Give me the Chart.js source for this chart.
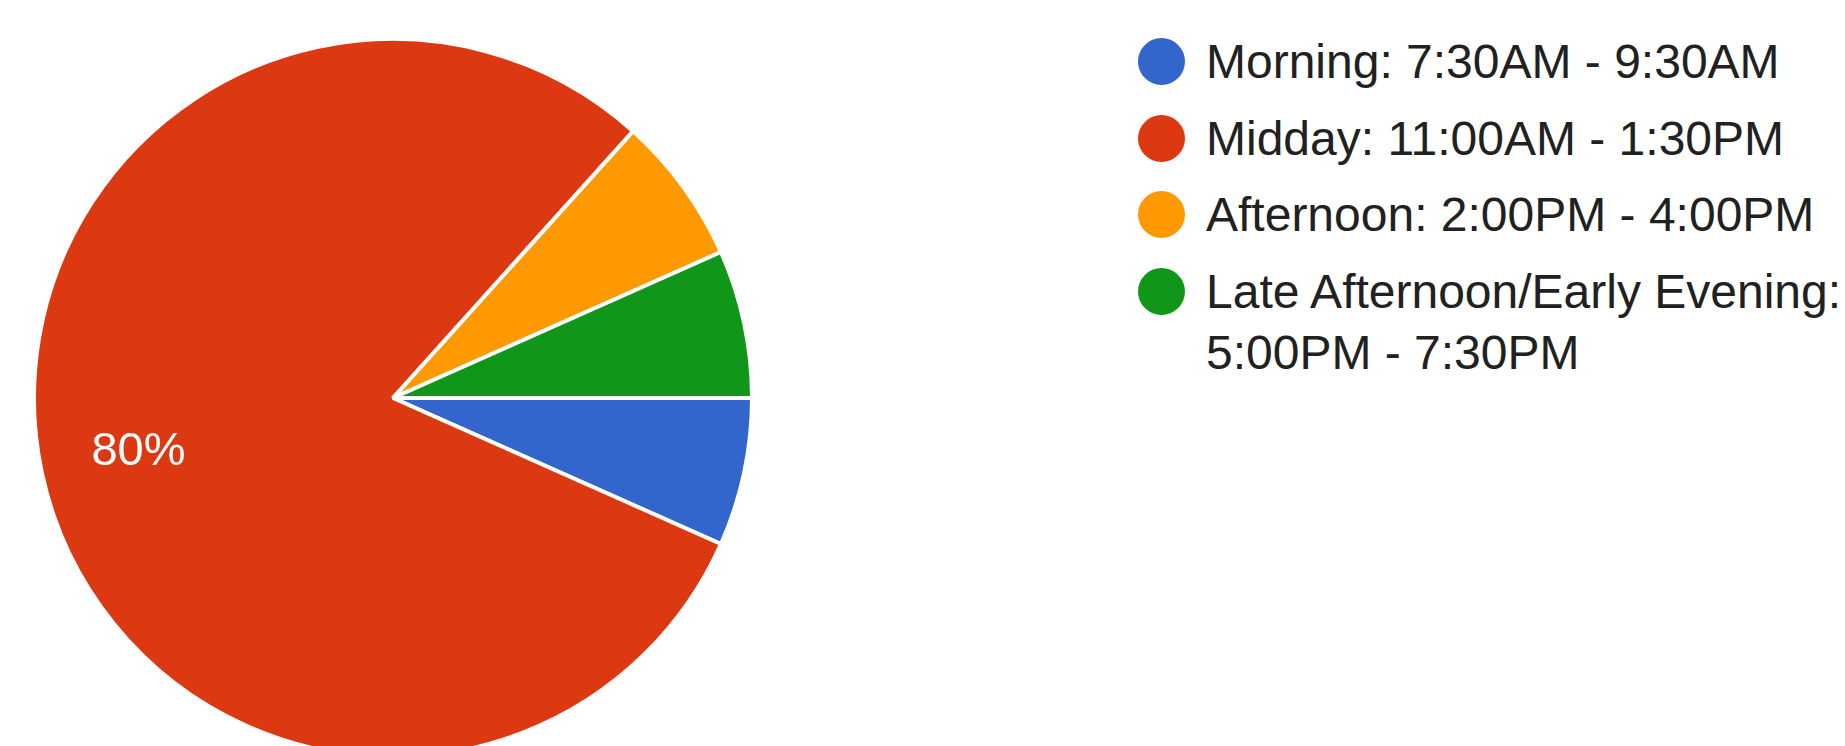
<!DOCTYPE html>
<html>
<head>
<meta charset="utf-8">
<script src="https://cdn.jsdelivr.net/npm/chart.js@4.4.0/dist/chart.umd.min.js"></script>
<style>
  html, body { margin: 0; padding: 0; background: #fff; overflow: hidden; }
  body { width: 1845px; height: 746px; position: relative; font-family: "Liberation Sans", Arial, sans-serif; }
  #pieBox { position: absolute; left: 32px; top: 37px; width: 722px; height: 722px; }
  #legend { position: absolute; left: 1138px; top: 31px; margin: 0; padding: 0; list-style: none; }
  #legend li { display: flex; align-items: flex-start; margin-bottom: 15.5px; }
  #legend .dot { flex: none; width: 47px; height: 47px; border-radius: 50%; margin-top: 7px; }
  #legend .txt { margin-left: 21px; font-size: 48px; line-height: 61px; color: #212121; width: 640px; }
</style>
</head>
<body>
<div id="pieBox"><canvas id="pie"></canvas></div>
<ul id="legend"></ul>
<script>
  // answers to "which time slot", 15 responses
  var slots = ['Morning: 7:30AM - 9:30AM', 'Midday: 11:00AM - 1:30PM', 'Afternoon: 2:00PM - 4:00PM', 'Late Afternoon/Early Evening: 5:00PM - 7:30PM'];
  var responses = [1, 12, 1, 1];
  var sliceColors = ['#3366cc', '#dc3912', '#ff9900', '#109618'];

  var total = responses.reduce(function(a, b) { return a + b; }, 0);

  // legend as html so the long label can wrap
  var legend = document.getElementById('legend');
  for (var i = 0; i < slots.length; i++) {
    var li = document.createElement('li');
    var dot = document.createElement('span');
    dot.className = 'dot';
    dot.style.background = sliceColors[i];
    var txt = document.createElement('span');
    txt.className = 'txt';
    txt.textContent = slots[i];
    li.appendChild(dot);
    li.appendChild(txt);
    legend.appendChild(li);
  }

  // percent label inside big slices, like google forms does
  var pctLabels = {
    id: 'pctLabels',
    afterDatasetsDraw: function(chart) {
      var ctx = chart.ctx;
      var meta = chart.getDatasetMeta(0);
      ctx.save();
      ctx.fillStyle = '#fff';
      ctx.font = '47px "Liberation Sans", Arial, sans-serif';
      ctx.textAlign = 'center';
      ctx.textBaseline = 'middle';
      meta.data.forEach(function(arc, idx) {
        var share = responses[idx] / total;
        if (share < 0.1) return;
        var mid = (arc.startAngle + arc.endAngle) / 2;
        var r = arc.outerRadius * 0.725;
        ctx.fillText(Math.round(share * 100) + '%', arc.x + Math.cos(mid) * r, arc.y + Math.sin(mid) * r);
      });
      ctx.restore();
    }
  };

  new Chart(document.getElementById('pie'), {
    type: 'pie',
    data: {
      labels: slots,
      datasets: [{
        data: responses,
        backgroundColor: sliceColors,
        borderColor: '#fff',
        borderWidth: 4,
        hoverOffset: 0
      }]
    },
    options: {
      responsive: true,
      maintainAspectRatio: false,
      animation: false,
      rotation: 90,
      layout: { padding: 0 },
      plugins: {
        legend: { display: false },
        tooltip: { enabled: false }
      }
    },
    plugins: [pctLabels]
  });
</script>
</body>
</html>
